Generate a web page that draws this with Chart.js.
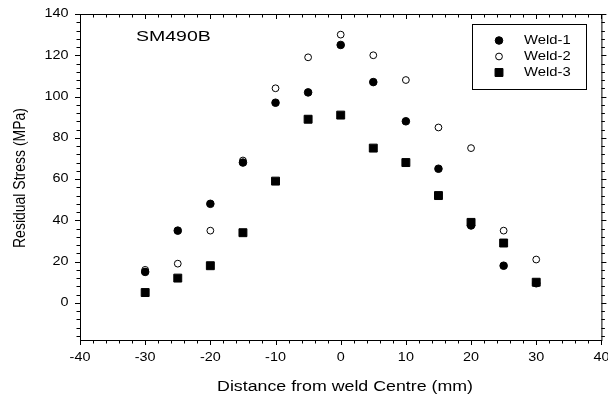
<!DOCTYPE html>
<html>
<head>
<meta charset="utf-8">
<script src="https://cdn.jsdelivr.net/npm/chart.js@4.4.1/dist/chart.umd.min.js"></script>
<style>
  html, body { margin: 0; padding: 0; background: #fff; }
  #wrap { width: 608px; height: 396px; }
</style>
</head>
<body>
<div id="wrap"><canvas id="chart" width="608" height="396"></canvas></div>
<script>
// data
const distance = [-30, -25, -20, -15, -10, -5, 0, 5, 10, 15, 20, 25, 30];
const weld1 = [15, 35, 48, 68, 97, 102, 125, 107, 88, 65, 37.5, 18, 9.5];
const weld2 = [16, 19, 35, 69, 104, 119, 130, 120, 108, 85, 75, 35, 21];
const weld3 = [5, 12, 18, 34, 59, 89, 91, 75, 68, 52, 39, 29, 10];
const seriesNames = ["Weld-1", "Weld-2", "Weld-3"];
const xTicks = [-40, -30, -20, -10, 0, 10, 20, 30, 40];
const yTicks = [0, 20, 40, 60, 80, 100, 120, 140];
const xMinorStep = 2;
const yMinorStep = 4;

const FONT = "'Liberation Sans', Arial, sans-serif";

function toPoints(ys) {
  return distance.map((x, i) => ({ x: x, y: ys[i] }));
}

// text in the reference is a bit wider than normal, so stretch it
function stretchText(ctx, text, x, y, align, sx) {
  ctx.save();
  ctx.translate(x, y);
  ctx.scale(sx, 1);
  ctx.textAlign = align;
  ctx.textBaseline = "middle";
  ctx.fillText(text, 0, 0);
  ctx.restore();
}

const framePlugin = {
  id: "frame",
  afterDraw(chart) {
    const ctx = chart.ctx;
    const a = chart.chartArea;
    const xs = chart.scales.x;
    const ys = chart.scales.y;
    ctx.save();
    ctx.strokeStyle = "#000";
    ctx.fillStyle = "#000";
    ctx.lineWidth = 1;

    // box
    ctx.strokeRect(a.left + 0.5, a.top + 0.5, a.right - a.left, a.bottom - a.top);

    ctx.beginPath();
    // x ticks: bottom outward, top inward
    for (let v = xs.min; v <= xs.max + 0.001; v += xMinorStep) {
      const px = Math.round(xs.getPixelForValue(v)) + 0.5;
      const major = xTicks.includes(v);
      const len = major ? 5 : 3.5;
      ctx.moveTo(px, a.bottom);
      ctx.lineTo(px, a.bottom + len);
      ctx.moveTo(px, a.top);
      ctx.lineTo(px, a.top + len);
    }
    // y ticks: left and right outward
    const yStart = Math.ceil(ys.min / yMinorStep) * yMinorStep;
    for (let v = yStart; v <= ys.max + 0.001; v += yMinorStep) {
      const py = Math.round(ys.getPixelForValue(v)) + 0.5;
      const major = yTicks.includes(v);
      const len = major ? 5 : 3.5;
      ctx.moveTo(a.left, py);
      ctx.lineTo(a.left - len, py);
      ctx.moveTo(a.right, py);
      ctx.lineTo(a.right + len, py);
    }
    ctx.stroke();

    // tick labels
    ctx.font = "12px " + FONT;
    xTicks.forEach((v) => {
      stretchText(ctx, String(v), xs.getPixelForValue(v), 358, "center", 1.2);
    });
    yTicks.forEach((v) => {
      stretchText(ctx, String(v), a.left - 11.5, ys.getPixelForValue(v), "right", 1.2);
    });

    // axis titles
    ctx.font = "14px " + FONT;
    stretchText(ctx, "Distance from weld Centre (mm)", 345, 387, "center", 1.27);
    ctx.save();
    ctx.translate(20, 178);
    ctx.rotate(-Math.PI / 2);
    ctx.scale(1, 1.2);
    ctx.textAlign = "center";
    ctx.textBaseline = "middle";
    ctx.fillText("Residual Stress (MPa)", 0, 0);
    ctx.restore();

    // label inside the plot
    ctx.font = "15px " + FONT;
    stretchText(ctx, "SM490B", 136, 37, "left", 1.3);

    // legend
    ctx.strokeRect(472.5, 24.5, 114, 65);
    ctx.font = "13px " + FONT;
    const rows = [40.5, 56.5, 72.5];
    chart.data.datasets.forEach((ds, i) => {
      ctx.fillStyle = ds.pointBackgroundColor;
      ctx.strokeStyle = ds.pointBorderColor;
      ctx.lineWidth = ds.pointBorderWidth;
      Chart.helpers.drawPoint(ctx, {
        pointStyle: ds.pointStyle,
        radius: ds.pointRadius,
        borderWidth: ds.pointBorderWidth,
        rotation: 0
      }, 499, rows[i]);
      ctx.fillStyle = "#000";
      stretchText(ctx, seriesNames[i], 524, rows[i], "left", 1.14);
    });

    ctx.restore();
  }
};

new Chart(document.getElementById("chart"), {
  type: "scatter",
  data: {
    datasets: [
      {
        label: seriesNames[0],
        data: toPoints(weld1),
        pointStyle: "circle",
        pointRadius: 3.8,
        pointBackgroundColor: "#000",
        pointBorderColor: "#000",
        pointBorderWidth: 1
      },
      {
        label: seriesNames[1],
        data: toPoints(weld2),
        pointStyle: "circle",
        pointRadius: 3.4,
        pointBackgroundColor: "#fff",
        pointBorderColor: "#000",
        pointBorderWidth: 1
      },
      {
        label: seriesNames[2],
        data: toPoints(weld3),
        pointStyle: "rect",
        pointRadius: 5.6,
        pointBackgroundColor: "#000",
        pointBorderColor: "#000",
        pointBorderWidth: 1
      }
    ]
  },
  options: {
    responsive: false,
    animation: false,
    layout: { padding: { left: 80, top: 14, right: 5, bottom: 56 } },
    plugins: {
      legend: { display: false },
      tooltip: { enabled: false }
    },
    scales: {
      x: { type: "linear", min: -40, max: 40, display: false },
      y: { type: "linear", min: -18, max: 140, display: false }
    }
  },
  plugins: [framePlugin]
});
</script>
</body>
</html>
